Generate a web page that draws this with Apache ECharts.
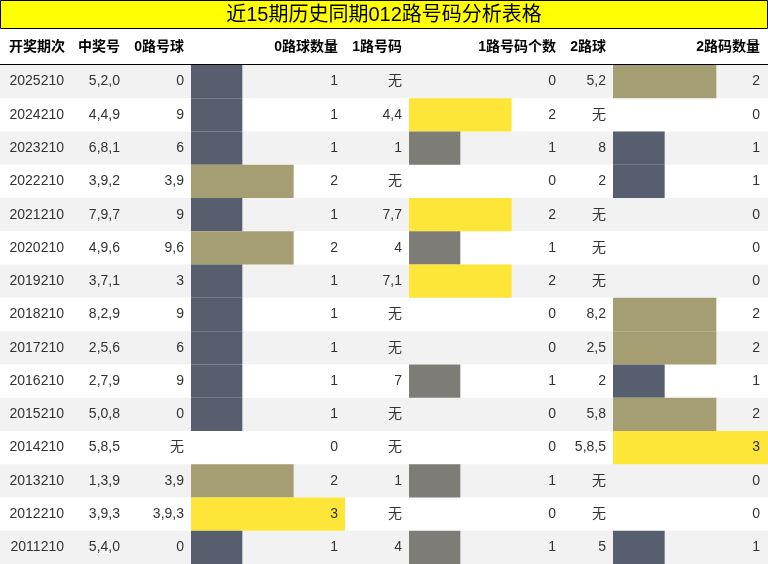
<!DOCTYPE html>
<html><head><meta charset="utf-8">
<script src="https://cdn.jsdelivr.net/npm/echarts@6/dist/echarts.min.js"></script>
<style>html,body{margin:0;padding:0;background:#fff}#c{width:768px;height:564px}</style>
</head><body><div id="c"></div>
<script>
const title = '近15期历史同期012路号码分析表格';
const headers = ['开奖期次','中奖号','0路号球','0路球数量','1路号码','1路号码个数','2路球','2路码数量'];
const periods = ['2025210','2024210','2023210','2022210','2021210','2020210','2019210','2018210','2017210','2016210','2015210','2014210','2013210','2012210','2011210'];
const numbers = ['5,2,0','4,4,9','6,8,1','3,9,2','7,9,7','4,9,6','3,7,1','8,2,9','2,5,6','2,7,9','5,0,8','5,8,5','1,3,9','3,9,3','5,4,0'];
const zeroBalls = ['0','9','6','3,9','9','9,6','3','9','6','9','0','无','3,9','3,9,3','0'];
const zeroCount = [1,1,1,2,1,2,1,1,1,1,1,0,2,3,1];
const oneBalls = ['无','4,4','1','无','7,7','4','7,1','无','无','7','无','无','1','无','4'];
const oneCount = [0,2,1,0,2,1,2,0,0,1,0,0,1,0,1];
const twoBalls = ['5,2','无','8','2','无','无','无','8,2','2,5','2','5,8','5,8,5','无','无','5'];
const twoCount = [2,0,1,1,0,0,0,2,2,1,2,3,0,0,1];

const colA = {1:'#575e6e',2:'#a59e73',3:'#fde637'};
const colB = {1:'#7e7c77',2:'#fde637',3:'#fde637'};
const colRight = [64,120,184,338,402,556,606,760];
const FONT = '"Liberation Sans","Noto Sans CJK SC",sans-serif';
const TOP = 65, H = 499;

const chart = echarts.init(document.getElementById('c'));
const rows = periods.map((p,i)=>i);
const barGrids = [{left:191,width:154,data:zeroCount,cmap:colA},{left:409,width:154,data:oneCount,cmap:colB},{left:613,width:155,data:twoCount,cmap:colA}];
const grid=[{left:0,width:768,top:TOP,height:H}], xAxis=[{type:'value',min:0,max:768,show:false,gridIndex:0}], yAxis=[{type:'category',data:rows,inverse:true,show:false,gridIndex:0}];
const series=[];
series.push({type:'custom',xAxisIndex:0,yAxisIndex:0,z:1,data:rows.map(i=>[0,i]),renderItem:(p,api)=>{
  const i=api.value(1); const c=api.coord([0,i]); const h=api.size([0,1])[1];
  return {type:'rect',shape:{x:0,y:c[1]-h/2,width:768,height:h},style:{fill:i%2===0?'#f2f2f2':'#ffffff'}};
}});
barGrids.forEach((g,k)=>{
  grid.push({left:g.left,width:g.width,top:TOP,height:H});
  xAxis.push({type:'value',min:0,max:3,show:false,gridIndex:k+1});
  yAxis.push({type:'category',data:rows,inverse:true,show:false,gridIndex:k+1});
  series.push({type:'bar',xAxisIndex:k+1,yAxisIndex:k+1,z:5,barWidth:'100%',barCategoryGap:0,silent:true,
    data:g.data.map(v=>({value:v,itemStyle:{color:g.cmap[v]||'transparent'}}))});
});
series.push({type:'custom',xAxisIndex:0,yAxisIndex:0,z:10,data:rows.map(i=>[0,i]),renderItem:(p,api)=>{
  const i=api.value(1); const y=api.coord([0,i])[1];
  const vals=[periods[i],numbers[i],zeroBalls[i],zeroCount[i],oneBalls[i],oneCount[i],twoBalls[i],twoCount[i]];
  return {type:'group',children:vals.map((v,k)=>({type:'text',style:{text:String(v),x:colRight[k],y:y,align:'right',verticalAlign:'middle',font:'14px '+FONT,fill:'#333'}}))};
}});
chart.setOption({animation:false,grid,xAxis,yAxis,series,
  graphic:[
    {type:'rect',shape:{x:0.5,y:0.5,width:767,height:28},style:{fill:'#ffff00',stroke:'#000',lineWidth:1}},
    {type:'text',style:{text:title,x:384,y:15,align:'center',verticalAlign:'middle',font:'20px '+FONT,fill:'#000'}},
    ...headers.map((h,k)=>({type:'text',style:{text:h,x:colRight[k]+(k===0?1:0),y:47,align:'right',verticalAlign:'middle',font:'bold 14px '+FONT,fill:'#000'}})),
    {type:'line',shape:{x1:0,y1:64.5,x2:768,y2:64.5},style:{stroke:'#000',lineWidth:1}}
  ]});
</script></body></html>
